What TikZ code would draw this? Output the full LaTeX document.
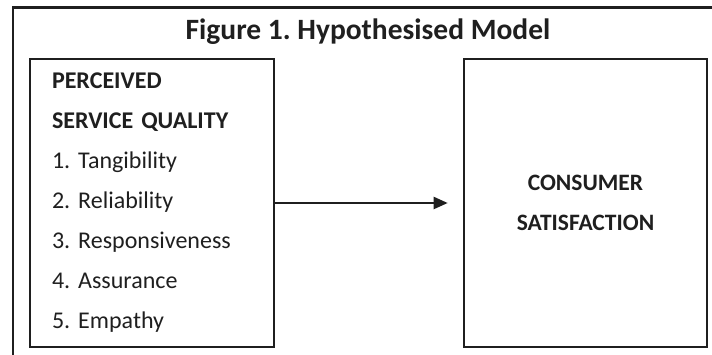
\documentclass[tikz,border=0pt]{standalone}
\usepackage{fontspec}
\setmainfont{Carlito}
\frenchspacing
\usetikzlibrary{calc,positioning,arrows.meta}

\begin{document}
\begin{tikzpicture}[x=1pt, y=-1pt, >={Triangle[length=14pt,width=12pt]},
        line width=2.6pt, draw=black!88]
        \tikzset{blk/.style={draw=black!88, rectangle, minimum width=244pt,
                 minimum height=288pt, inner xsep=22pt, inner ysep=0pt},
                 ttl/.style={font=\fontsize{29.5}{34}\selectfont\bfseries, text=black!88}}
        \useasboundingbox (0,0) rectangle (712,355);
        %% Marco exterior (recortado abajo y a la derecha)
        \coordinate (frmA) at (13,355);
        \coordinate (frmB) at (712,7.5);
        \draw (frmA) |- (frmB);
        %% Titulo
        \node[ttl, anchor=base] (tit) at (368,40) {Figure 1. Hypothesised Model};
        %% Bloques
        \node[blk, text width=200pt, align=left, text=black!88,
              font=\fontsize{24}{40}\selectfont] (psq) at (152,203)
             {\textbf{PERCEIVED}\\ \textbf{SERVICE QUALITY}\\ 1. Tangibility\\
              2. Reliability\\ 3. Responsiveness\\ 4. Assurance\\ 5. Empathy};
        \node[blk, minimum width=243pt, align=center, text=black!88,
              font=\fontsize{23.5}{40}\selectfont\bfseries] (csat) at (585.5,203)
             {CONSUMER\\SATISFACTION};
        %% Relacion hipotetica
        \draw[->, line width=2.2pt, shorten >=15pt] (psq.east) -- (csat.west);
\end{tikzpicture}
\end{document}
